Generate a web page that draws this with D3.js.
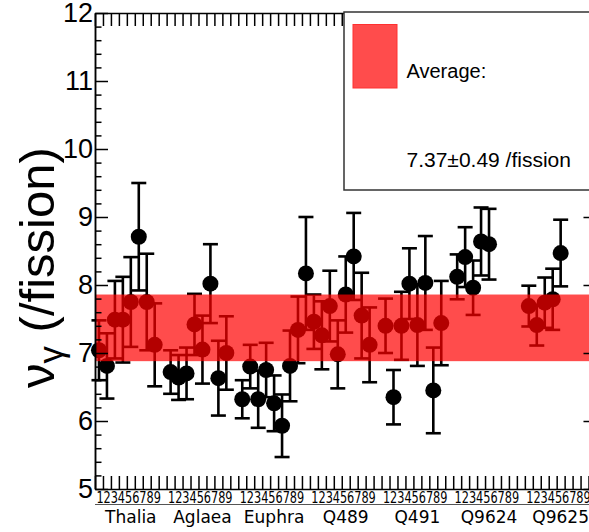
<!DOCTYPE html>
<html>
<head>
<meta charset="utf-8">
<script src="https://cdn.jsdelivr.net/npm/d3@7"></script>
<style>
html,body{margin:0;padding:0;background:#fff;overflow:hidden;}
svg{display:block;}
</style>
</head>
<body>
<svg id="chart" width="589" height="532"></svg>
<script>
// ---- data ----
const groups = ["Thalia","Aglaea","Euphra","Q489","Q491","Q9624","Q9625"];
const binLabels = ["1","2","3","4","5","6","7","8","9"];
const thaliaVal = [7.04, 6.81, 7.49, 7.49, 7.75, 8.71, 7.75, 7.12, null];
const thaliaErr = [0.44, 0.48, 0.57, 0.63, 0.66, 0.79, 0.71, 0.61, null];
const aglaeaVal = [6.72, 6.64, 6.70, 7.42, 7.05, 8.02, 6.63, 7.00, null];
const aglaeaErr = [0.32, 0.33, 0.38, 0.45, 0.50, 0.58, 0.55, 0.54, null];
const euphraVal = [6.32, 6.80, 6.32, 6.75, 6.26, 5.93, 6.81, 7.34, 8.17];
const euphraErr = [0.28, 0.32, 0.42, 0.40, 0.41, 0.46, 0.52, 0.49, 0.83];
const q489Val  = [7.46, 7.26, 7.69, 6.98, 7.86, 8.42, 7.55, 7.12, null];
const q489Err  = [0.40, 0.50, 0.52, 0.50, 0.56, 0.64, 0.63, 0.55, null];
const q491Val  = [7.40, 6.35, 7.40, 8.02, 7.41, 8.03, 6.45, 7.44, null];
const q491Err  = [0.40, 0.40, 0.50, 0.52, 0.60, 0.69, 0.63, 0.62, null];
const q9624Val = [8.12, 8.41, 7.96, 8.64, 8.60, null, null, null, null];
const q9624Err = [0.33, 0.44, 0.40, 0.50, 0.52, null, null, null, null];
const q9625Val = [7.69, 7.41, 7.74, 7.79, 8.47, null, null, null, null];
const q9625Err = [0.30, 0.30, 0.37, 0.45, 0.49, null, null, null, null];
const yMajorTicks = [5,6,7,8,9,10,11,12];
const average = 7.37;
const averageErr = 0.49;
const legendTitle = "Average:";
const legendValue = "7.37\u00B10.49 /fission";

const seriesVal = [thaliaVal, aglaeaVal, euphraVal, q489Val, q491Val, q9624Val, q9625Val];
const seriesErr = [thaliaErr, aglaeaErr, euphraErr, q489Err, q491Err, q9624Err, q9625Err];
const nBins = groups.length * binLabels.length;

const points = [];
seriesVal.forEach((vals, g) => vals.forEach((v, k) => {
  if (v !== null) points.push({bin: g*binLabels.length + k, v: v, e: seriesErr[g][k]});
}));

// ---- layout ----
const svg = d3.select("#chart");
const x = d3.scaleLinear().domain([0, nBins]).range([95, 95 + nBins*7.96]);
const y = d3.scaleLinear().domain([5, 12]).range([489, 13]);

// error bars
const eb = svg.append("g").attr("stroke", "#000").attr("stroke-width", 2.6);
points.forEach(p => {
  const cx = x(p.bin + 0.5);
  eb.append("line").attr("x1", cx).attr("x2", cx).attr("y1", y(p.v + p.e)).attr("y2", y(p.v - p.e));
  eb.append("line").attr("x1", cx - 7.5).attr("x2", cx + 7.5).attr("y1", y(p.v + p.e)).attr("y2", y(p.v + p.e));
  eb.append("line").attr("x1", cx - 7.5).attr("x2", cx + 7.5).attr("y1", y(p.v - p.e)).attr("y2", y(p.v - p.e));
});
svg.append("g").selectAll("circle").data(points).join("circle")
  .attr("cx", p => x(p.bin + 0.5)).attr("cy", p => y(p.v)).attr("r", 8).attr("fill", "#000");

// average band
svg.append("rect")
  .attr("x", x(0)).attr("width", x(nBins) - x(0))
  .attr("y", y(average + averageErr)).attr("height", y(average - averageErr) - y(average + averageErr))
  .attr("fill", "#ff0000").attr("fill-opacity", 0.7);

// axes
const minorTicks = d3.range(5, 12.001, 0.2).map(d => +d.toFixed(1)).filter(d => Math.abs(d - Math.round(d)) > 0.01);
function styleAxis(g) {
  g.selectAll("path,line").attr("stroke", "#000").attr("stroke-width", 1.5);
}
svg.append("g").attr("transform", `translate(${x(0)},0)`)
  .call(d3.axisLeft(y).tickValues(yMajorTicks).tickSize(-13).tickSizeOuter(0).tickPadding(2).tickFormat(d3.format("d")))
  .call(styleAxis)
  .call(g => g.selectAll("text").attr("font-family", "Liberation Sans, Arial, sans-serif").attr("font-size", 27).attr("fill", "#000"));
svg.append("g").attr("transform", `translate(${x(0)},0)`)
  .call(d3.axisLeft(y).tickValues(minorTicks).tickSize(-6.5).tickSizeOuter(0).tickFormat(""))
  .call(styleAxis);
svg.append("g").attr("transform", `translate(${x(nBins)},0)`)
  .call(d3.axisRight(y).tickValues(yMajorTicks).tickSize(-13).tickSizeOuter(0).tickFormat(""))
  .call(styleAxis);
svg.append("g").attr("transform", `translate(${x(nBins)},0)`)
  .call(d3.axisRight(y).tickValues(minorTicks).tickSize(-6.5).tickSizeOuter(0).tickFormat(""))
  .call(styleAxis);
svg.append("g").attr("transform", `translate(0,${y(5)})`)
  .call(d3.axisBottom(x).tickValues(d3.range(0, nBins + 1)).tickSize(-13).tickSizeOuter(0).tickFormat(""))
  .call(styleAxis);
svg.append("g").attr("transform", `translate(0,${y(12)})`)
  .call(d3.axisTop(x).tickValues(d3.range(0, nBins + 1)).tickSize(-13).tickSizeOuter(0).tickFormat(""))
  .call(styleAxis);

// bin labels
const lab = svg.append("g").attr("font-family", "DejaVu Sans, sans-serif").attr("font-size", 15).attr("fill", "#000").attr("text-anchor", "middle");
groups.forEach((gname, g) => {
  const first = x(g*binLabels.length + 0.5);
  binLabels.forEach((b, k) => {
    const c = x(g*binLabels.length + k + 0.5);
    lab.append("text").attr("x", first + 1.0 + (c - first)*0.9).attr("y", 503)
      .attr("textLength", 7.2).attr("lengthAdjust", "spacingAndGlyphs").text(b);
  });
  svg.append("text").attr("x", x(g*binLabels.length + binLabels.length/2)).attr("y", 523)
    .attr("font-family", "DejaVu Sans, sans-serif").attr("font-size", 17).attr("text-anchor", "middle").attr("fill", "#000")
    .text(gname);
});
svg.append("line").attr("x1", x(0)).attr("x2", x(nBins)).attr("y1", 504.5).attr("y2", 504.5)
  .attr("stroke", "#555").attr("stroke-width", 1);

// y title
const yt = svg.append("text").attr("transform", "translate(54,388) rotate(-90)")
  .attr("font-family", "Liberation Sans, Arial, sans-serif").attr("font-size", 49).attr("text-anchor", "start").attr("fill", "#000");
yt.append("tspan").text("\u03BD");
yt.append("tspan").attr("font-size", 35).attr("dy", 9).text("\u03B3");
yt.append("tspan").attr("dy", -9).text(" (/fission)");

// legend
svg.append("rect").attr("x", 344).attr("y", 12).attr("width", 260).attr("height", 178)
  .attr("fill", "#fff").attr("stroke", "#333").attr("stroke-width", 1.5);
svg.append("rect").attr("x", 353).attr("y", 24.5).attr("width", 44).attr("height", 63.5)
  .attr("fill", "#ff0000").attr("fill-opacity", 0.7).attr("stroke", "#ff3030").attr("stroke-width", 1);
svg.append("text").attr("x", 406.5).attr("y", 78).attr("font-family", "Liberation Sans, Arial, sans-serif").attr("font-size", 20).attr("fill", "#000").text(legendTitle);
svg.append("text").attr("x", 406.5).attr("y", 166.5).attr("font-family", "Liberation Sans, Arial, sans-serif").attr("font-size", 21).attr("fill", "#000").text(legendValue);
</script>
</body>
</html>
